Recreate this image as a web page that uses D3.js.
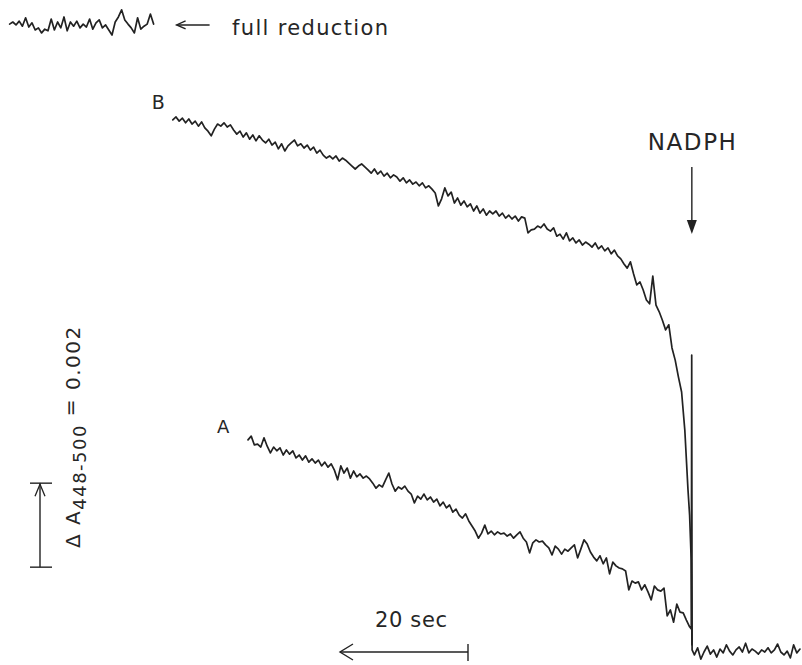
<!DOCTYPE html>
<html><head><meta charset="utf-8">
<script src="https://cdn.jsdelivr.net/npm/d3@7"></script>
<style>
html,body{margin:0;padding:0;background:#fff;}
svg{display:block;}
text{font-family:"DejaVu Sans",sans-serif;fill:#262626;}
</style>
</head><body>
<svg id="chart" width="802" height="665"></svg>
<script>
// Sampling interval of the recorder traces (seconds)
const sampleStep = 0.5;

// Trace B (ΔA448-500, in units of 0.001), starting at t = 27 s
const traceBStart = 27;
const traceB = [
  12.67,12.74,12.64,12.71,12.60,12.69,12.57,12.64,12.52,12.62,
  12.48,12.40,12.29,12.45,12.57,12.52,12.60,12.50,12.55,12.43,
  12.33,12.40,12.26,12.36,12.21,12.31,12.17,12.29,12.19,12.12,
  12.21,12.07,12.14,11.98,12.10,11.93,12.05,12.12,12.19,12.05,
  12.10,12.00,12.07,11.95,12.02,11.88,11.95,11.83,11.76,11.81,
  11.74,11.81,11.69,11.76,11.71,11.64,11.57,11.50,11.57,11.62,
  11.55,11.48,11.40,11.50,11.38,11.45,11.33,11.40,11.29,11.36,
  11.31,11.21,11.29,11.17,11.24,11.14,11.19,11.10,11.17,11.05,
  11.10,11.02,10.93,10.62,10.79,11.05,10.86,10.95,10.69,10.81,
  10.64,10.74,10.60,10.67,10.50,10.62,10.45,10.55,10.40,10.50,
  10.43,10.50,10.38,10.45,10.33,10.40,10.31,10.38,10.26,10.36,
  10.33,9.98,10.05,10.07,10.14,10.10,10.19,10.07,10.02,10.10,
  9.90,9.95,9.83,9.98,9.79,9.86,9.74,9.81,9.69,9.76,
  9.71,9.64,9.74,9.60,9.67,9.55,9.62,9.48,9.57,9.43,
  9.36,9.24,9.14,9.29,9.00,8.74,8.81,8.62,8.38,8.29,
  8.95,8.26,8.10,7.90,7.67,7.79,7.24,6.95,6.55,6.19,
  5.29,3.86
];
// Final fast fall of trace B into the reduced level: [time s, value]
const traceBFall = [[107.75,3.26],[108.0,2.19],[108.12,0.17]];

// Trace A, starting at t = 38.75 s
const traceAStart = 38.75;
const traceA = [
  5.05,5.14,4.93,4.95,4.88,5.10,4.90,4.74,4.88,4.79,
  4.86,4.69,4.81,4.71,4.79,4.62,4.69,4.57,4.67,4.52,
  4.60,4.50,4.57,4.43,4.52,4.40,4.48,4.33,4.10,4.43,
  4.26,4.38,4.14,4.31,4.17,4.24,4.14,4.19,4.12,4.02,
  3.90,3.98,3.93,4.10,4.26,4.00,3.83,3.93,3.88,3.95,
  3.83,3.76,3.55,3.71,3.64,3.76,3.62,3.69,3.57,3.64,
  3.48,3.57,3.43,3.50,3.33,3.40,3.26,3.19,3.29,3.12,
  3.00,2.88,2.71,2.83,3.02,2.81,2.88,2.79,2.86,2.81,
  2.83,2.76,2.81,2.71,2.79,2.86,2.71,2.62,2.36,2.60,
  2.67,2.62,2.64,2.55,2.48,2.31,2.52,2.45,2.33,2.45,
  2.40,2.48,2.55,2.24,2.45,2.67,2.57,2.38,2.26,2.17,
  2.29,2.10,2.24,1.86,2.14,2.05,2.00,1.98,1.93,1.48,
  1.69,1.64,1.67,1.48,1.60,1.43,1.24,1.57,1.48,1.45,
  1.52,0.86,1.00,0.71,1.14,0.95,0.93,0.76,0.60
];
// Mixing spike of trace A on NADPH addition: [time s, value]
const traceASpike = [[108.02,0.55],[108.08,7.07],[108.14,0.05]];

// Reduced level after NADPH, starting at t = 108.5 s
const reducedStart = 108.5;
const reduced = [
  -0.07,0.10,-0.17,0.00,0.14,-0.05,0.05,-0.12,0.07,-0.02,
  0.17,0.02,-0.07,0.05,0.12,0.00,0.21,-0.02,0.07,0.02,
  -0.05,0.05,0.00,0.10,-0.02,0.05,0.19,0.00,-0.07,0.02,
  -0.14,0.17,-0.02,0.07
];

// Full reduction reference trace, starting at t = 1.5 s
const fullStart = 1.5;
const fullReduction = [
  14.95,15.00,14.93,15.02,14.90,15.10,14.88,14.98,14.81,14.86,
  14.74,14.83,14.79,15.07,14.81,15.00,14.86,15.12,14.79,15.00,
  14.90,15.02,14.86,14.95,14.88,15.07,14.83,14.98,15.05,14.86,
  14.93,14.81,14.69,15.00,15.12,15.29,15.05,14.95,14.86,14.74,
  15.10,14.83,14.90,14.95,15.19,14.95
];
const fullLevel = 14.93;

// Annotations
const nadphTime = 108.1;
const timeBarStart = 53.125, timeBarLength = 20;   // seconds
const absBarBase = 2.02, absBarLength = 2;        // 0.002 ΔA
const labels = {full:"full reduction", nadph:"NADPH", time:"20 sec", A:"A", B:"B"};

const svg = d3.select("#chart");
const x = d3.scaleLinear().domain([0,125]).range([0,800]);
const y = d3.scaleLinear().domain([0,16]).range([652,-20]);
const line = d3.line().x(d=>x(d[0])).y(d=>y(d[1]));
const series = (start, vals) => vals.map((v,i)=>[start+i*sampleStep, v]);

const ink = "#222";
const traceStyle = p => p.attr("fill","none").attr("stroke",ink).attr("stroke-width",1.7)
  .attr("stroke-linejoin","round").attr("stroke-linecap","round");

const bData = series(traceBStart, traceB).concat(traceBFall);
const aData = series(traceAStart, traceA).concat(traceASpike).concat(series(reducedStart, reduced));
const fData = series(fullStart, fullReduction);

svg.append("path").attr("d", line(bData)).call(traceStyle);
svg.append("path").attr("d", line(aData)).call(traceStyle);
svg.append("path").attr("d", line(fData)).call(traceStyle);

// full reduction arrow + text
const fy = y(fullLevel);
const fx0 = x(fullStart + (fullReduction.length-1)*sampleStep) + 23, fx1 = fx0 + 33;
svg.append("line").attr("x1",fx0).attr("x2",fx1).attr("y1",fy).attr("y2",fy).attr("stroke",ink).attr("stroke-width",1.4);
svg.append("path").attr("d",`M${fx0+9},${fy-4}L${fx0},${fy}L${fx0+9},${fy+4}`).attr("fill","none").attr("stroke",ink).attr("stroke-width",1.4);
svg.append("text").attr("x",232).attr("y",fy+10).attr("font-size",21).attr("textLength",156).attr("lengthAdjust","spacing").text(labels.full);

// trace labels
const b0 = bData[0], a0 = aData[0];
svg.append("text").attr("x",x(b0[0])-21).attr("y",y(b0[1])-11).attr("font-size",19).text(labels.B);
svg.append("text").attr("x",x(a0[0])-31).attr("y",y(a0[1])-7).attr("font-size",18).text(labels.A);

// NADPH arrow
const nx = x(nadphTime);
svg.append("text").attr("x",nx).attr("y",150).attr("text-anchor","middle").attr("font-size",23)
  .attr("textLength",88).attr("lengthAdjust","spacing").text(labels.nadph);
svg.append("line").attr("x1",nx).attr("x2",nx).attr("y1",167).attr("y2",224).attr("stroke",ink).attr("stroke-width",1.4);
svg.append("path").attr("d",`M${nx-5},${220}L${nx+5},${220}L${nx},${234}Z`).attr("fill",ink);

// time scale bar
const tx0 = x(timeBarStart), tx1 = x(timeBarStart+timeBarLength), ty = 652;
svg.append("line").attr("x1",tx0).attr("x2",tx1).attr("y1",ty).attr("y2",ty).attr("stroke",ink).attr("stroke-width",1.4);
svg.append("path").attr("d",`M${tx0+13},${ty-8}L${tx0},${ty}L${tx0+13},${ty+8}`).attr("fill","none").attr("stroke",ink).attr("stroke-width",1.4);
svg.append("line").attr("x1",tx1).attr("x2",tx1).attr("y1",ty-8).attr("y2",ty+9).attr("stroke",ink).attr("stroke-width",1.4);
svg.append("text").attr("x",375).attr("y",627).attr("font-size",21).attr("textLength",72).attr("lengthAdjust","spacing").text(labels.time);

// absorbance scale bar
const ay0 = y(absBarBase), ay1 = y(absBarBase+absBarLength), ax = 40;
svg.append("line").attr("x1",ax).attr("x2",ax).attr("y1",ay0).attr("y2",ay1).attr("stroke",ink).attr("stroke-width",1.4);
svg.append("line").attr("x1",ax-10).attr("x2",ax+12).attr("y1",ay0).attr("y2",ay0).attr("stroke",ink).attr("stroke-width",1.4);
svg.append("line").attr("x1",ax-10).attr("x2",ax+12).attr("y1",ay1).attr("y2",ay1).attr("stroke",ink).attr("stroke-width",1.4);
svg.append("path").attr("d",`M${ax-5},${ay1+13}L${ax},${ay1+1}L${ax+5},${ay1+13}`).attr("fill","none").attr("stroke",ink).attr("stroke-width",1.3);

// rotated label
const rl = svg.append("text").attr("transform","translate(80,548) rotate(-90)").attr("font-size",20).attr("letter-spacing",1.5);
rl.append("tspan").text("Δ A");
rl.append("tspan").attr("font-size",18).attr("dy",6).text("448-500");
rl.append("tspan").attr("dy",-9).text(" =");
rl.append("tspan").attr("dy",3).text(" 0.002");
</script>
</body></html>
